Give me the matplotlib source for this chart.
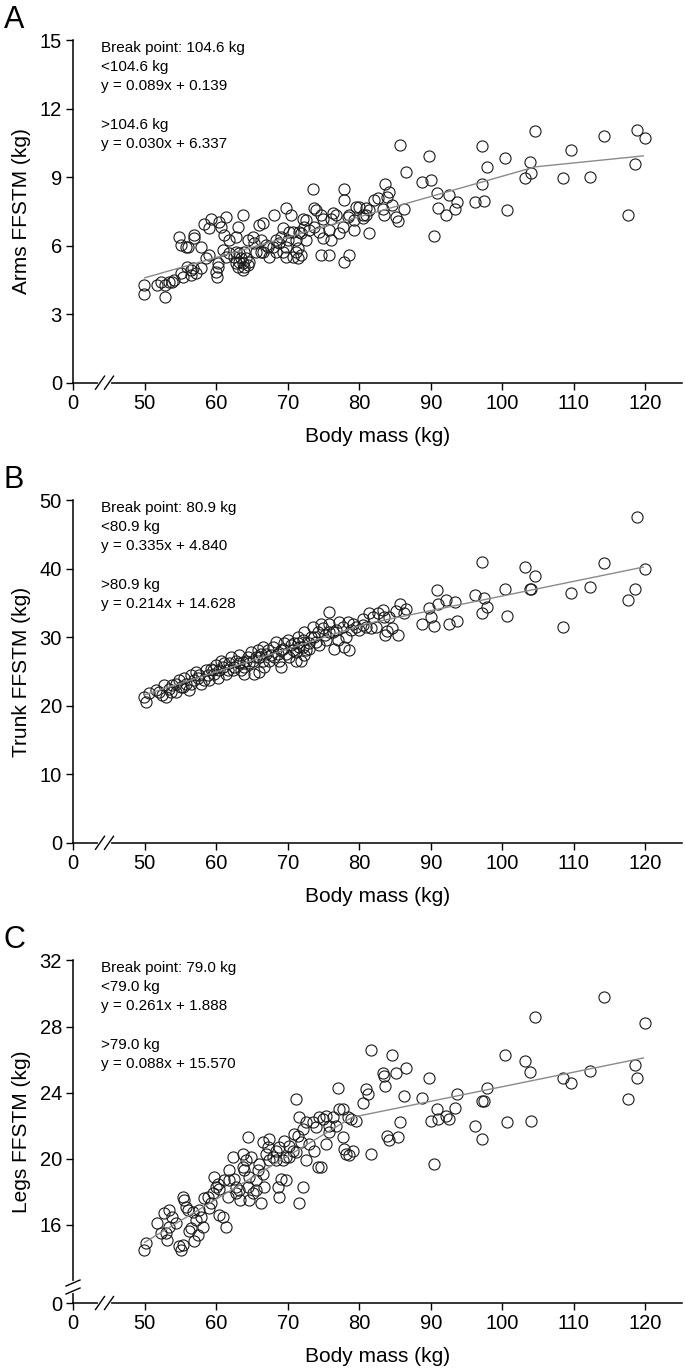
import matplotlib
matplotlib.use("Agg")
import matplotlib.pyplot as plt

plt.rcParams['font.family'] = ['Liberation Sans', 'DejaVu Sans']

# ---- data ----
arms_mass = [49.9, 49.9, 51.8, 52.9, 52.9, 53.4, 54.1, 55.1, 55.3, 56.5, 56.7, 55.9, 54.8, 55.1, 55.8,
             56.1, 56.9, 56.9, 57.9, 59.0, 59.3, 60.4, 60.7, 61.4, 59.0, 58.6, 60.2, 60.2, 60.0, 60.1,
             61.8, 61.1, 61.8, 63.0, 63.7, 62.8, 62.8, 63.2, 63.7, 63.9, 63.5, 62.8, 64.2, 64.6, 64.4,
             65.3, 66.0, 66.5, 65.6, 66.5, 67.0, 68.1, 67.9, 68.8, 69.3, 69.8, 70.0, 69.3, 69.8, 70.5,
             70.7, 71.2, 71.9, 71.4, 72.1, 72.3, 71.6, 72.6, 73.7, 73.5, 74.7, 74.9, 74.4, 74.9, 74.7,
             75.8, 76.3, 76.1, 77.2, 77.7, 77.9, 77.9, 77.9, 78.6, 78.6, 79.6, 79.3, 80.5, 80.9, 81.4,
             82.6,
             58.3, 57.2, 57.9, 56.5, 53.9, 52.3, 65.1, 66.3, 67.2, 68.4, 69.1, 70.2, 71.2, 71.4, 73.0,
             73.7, 75.8, 76.1, 76.8, 80.0, 80.5, 63.2, 63.9, 62.5, 64.4, 63.7, 63.0, 61.4, 60.9, 67.4,
             68.4, 66.3, 69.8, 70.7, 71.9, 72.6, 74.0, 78.4, 79.3, 81.4, 82.1, 80.9,
             83.3, 83.5, 83.6, 83.9, 84.2, 84.6, 85.2, 85.4, 85.7, 86.2, 86.6, 88.7, 89.8, 90.0, 90.5,
             90.9, 91.0, 92.1, 92.6, 93.4, 93.7, 96.2, 97.1, 97.2, 97.5, 97.9, 100.4, 100.7, 103.2,
             103.8, 104.0, 104.6, 108.5, 109.6, 112.2, 114.2, 117.6, 118.5, 118.8, 119.9]
arms_ffstm = [4.27, 3.88, 4.27, 3.76, 4.27, 4.42, 4.49, 4.78, 4.64, 4.71, 5.00, 5.08, 6.39, 6.02, 5.95,
              5.95, 6.46, 6.32, 5.95, 6.75, 7.15, 7.05, 6.83, 7.26, 5.59, 5.44, 5.22, 5.08, 4.86, 4.64,
              5.66, 6.46, 6.24, 6.83, 7.34, 6.39, 5.73, 5.30, 5.22, 5.08, 5.44, 5.22, 5.44, 5.30, 6.24,
              6.10, 6.90, 6.97, 5.73, 5.73, 6.02, 7.34, 5.95, 6.10, 6.75, 7.63, 6.24, 5.73, 5.51, 7.34,
              6.61, 5.73, 5.59, 5.44, 7.15, 6.83, 6.61, 6.24, 7.63, 8.46, 7.34, 7.15, 6.61, 6.32, 5.59,
              5.59, 7.41, 7.15, 6.54, 6.83, 8.46, 7.99, 5.30, 5.59, 7.34, 7.70, 6.68, 7.34, 7.63, 6.54,
              8.07,
              6.94, 4.78, 5.00, 4.93, 4.42, 4.42, 6.39, 6.24, 5.95, 6.24, 6.39, 6.61, 6.24, 5.88, 6.68,
              6.83, 6.68, 6.24, 7.34, 7.70, 7.19, 5.66, 5.73, 5.51, 5.15, 4.93, 5.08, 5.51, 5.81, 5.51,
              5.73, 5.73, 5.95, 5.51, 6.54, 7.12, 7.56, 7.26, 7.12, 7.56, 7.99, 7.34,
              7.60, 7.34, 8.68, 8.14, 8.33, 7.79, 7.24, 7.09, 10.42, 7.60, 9.22, 8.78, 9.93, 8.88, 6.41,
              8.30, 7.66, 7.34, 8.21, 7.59, 7.92, 7.92, 10.37, 8.71, 7.94, 9.44, 9.83, 7.57, 8.95,
              9.65, 9.19, 11.00, 8.97, 10.18, 9.00, 10.78, 7.34, 9.58, 11.05, 10.71]

trunk_mass = [49.9, 50.2, 51.6, 52.7, 52.5, 53.0, 53.7, 53.9, 54.4, 54.8, 55.1, 55.5, 55.8, 56.2, 56.5,
              56.9, 57.2, 57.6, 57.9, 58.3, 58.6, 59.3, 59.7, 60.0, 60.2, 60.7, 60.9, 61.4, 61.8, 62.1,
              62.3, 62.8, 63.2, 63.7, 63.9, 64.4, 64.9, 65.1, 65.3, 65.8, 66.0, 66.5, 66.7, 67.0, 67.4,
              67.9, 68.4, 68.6, 68.8, 69.3, 69.5, 70.0, 70.2, 70.7, 70.9, 71.4, 71.6, 71.9, 72.1, 72.3,
              72.6, 73.0, 73.5, 73.7, 74.2, 74.4, 74.7, 74.9, 75.4, 75.8, 75.8, 76.3, 76.5, 77.0, 77.2,
              77.7, 77.9, 78.4, 78.6, 78.9, 79.1, 80.0, 80.5, 80.9, 81.4, 81.9, 82.4, 82.6,
              50.6, 52.0, 53.4, 54.4, 55.3, 56.5, 57.4, 58.8, 59.0, 59.5, 60.4, 61.1, 61.6, 62.5, 63.2,
              63.5, 64.2, 64.6, 65.6, 66.3, 66.5, 67.2, 67.7, 68.1, 69.1, 69.8, 70.5, 71.2, 71.4, 72.1,
              72.3, 73.3, 74.0, 75.2, 75.8, 76.8, 78.2, 79.6, 80.5, 81.7, 66.0, 69.1, 71.2, 73.0, 63.9,
              83.3, 83.5, 83.6, 83.9, 84.2, 84.6, 85.2, 85.4, 85.7, 86.2, 86.6, 88.7, 89.8, 90.0, 90.5,
              90.9, 91.0, 92.1, 92.6, 93.4, 93.7, 96.2, 97.1, 97.2, 97.5, 97.9, 100.4, 100.7, 103.2,
              103.8, 104.0, 104.6, 108.5, 109.6, 112.2, 114.2, 117.6, 118.5, 118.8, 119.9]
trunk_ffstm = [21.3, 20.6, 22.3, 23.0, 21.5, 21.3, 22.0, 23.0, 23.2, 23.7, 22.8, 24.0, 23.2, 22.3, 24.5,
               23.7, 24.9, 24.5, 23.2, 23.7, 25.2, 25.4, 24.7, 25.9, 24.0, 26.6, 25.7, 24.7, 26.2, 27.1,
               25.2, 26.6, 27.4, 26.4, 25.7, 27.1, 27.9, 26.6, 24.7, 28.1, 27.1, 28.6, 25.7, 27.6, 26.6,
               28.6, 29.3, 27.6, 26.6, 28.3, 29.1, 29.6, 27.1, 28.1, 29.1, 30.1, 28.6, 26.6, 29.6, 30.8,
               28.1, 29.1, 31.5, 30.1, 30.8, 28.8, 32.0, 31.3, 29.6, 33.7, 32.0, 30.8, 28.3, 29.6, 32.2,
               31.5, 28.6, 32.2, 28.1, 31.0, 32.0, 31.0, 32.7, 31.5, 33.5, 33.0, 31.5, 33.5,
               21.8, 22.0, 22.5, 22.0, 22.8, 23.2, 24.0, 24.5, 23.7, 25.2, 25.2, 26.2, 25.2, 25.7, 26.2,
               25.2, 26.6, 26.2, 27.1, 27.6, 26.6, 28.1, 27.4, 27.1, 28.1, 27.6, 28.8, 27.9, 29.1, 28.6,
               27.4, 30.1, 29.3, 30.3, 30.8, 31.0, 30.1, 31.5, 31.8, 31.3, 24.9, 25.7, 26.6, 28.3, 24.7,
               34.0, 33.0, 30.4, 30.9, 33.0, 31.3, 33.9, 30.3, 34.8, 33.5, 34.1, 32.0, 34.2, 32.9, 31.7,
               36.9, 34.9, 35.5, 32.0, 35.1, 32.3, 36.1, 41.0, 33.6, 35.7, 34.4, 37.0, 33.1, 40.2,
               37.0, 37.0, 39.0, 31.5, 36.5, 37.4, 40.8, 35.4, 37.0, 47.6, 39.9]

legs_mass = [49.9, 50.2, 51.8, 52.7, 53.0, 53.4, 53.2, 54.8, 55.1, 55.3, 55.5, 55.3, 55.8, 56.2, 56.7,
             56.9, 57.2, 57.4, 58.1, 58.3, 58.8, 59.3, 59.7, 60.0, 60.2, 60.4, 60.9, 61.4, 61.6, 62.3,
             61.8, 62.8, 63.2, 63.7, 63.7, 63.9, 64.4, 64.4, 64.6, 65.1, 65.6, 66.0, 66.3, 66.5, 66.7,
             67.2, 67.4, 67.9, 68.4, 68.6, 68.8, 69.0, 69.5, 69.8, 70.2, 70.7, 71.2, 71.4, 71.6, 71.9,
             72.1, 72.1, 71.6, 72.6, 73.5, 73.7, 74.2, 74.7, 74.9, 75.4, 75.8, 76.3, 77.0, 77.2, 77.7,
             77.9, 78.2, 78.6, 78.9, 79.6, 80.5, 81.0, 81.2, 81.7, 81.7,
             53.9, 54.4, 56.0, 56.5, 57.6, 57.9, 59.0, 59.5, 60.4, 61.1, 61.8, 62.5, 62.8, 63.4, 64.2,
             64.6, 64.9, 65.6, 65.8, 66.5, 67.0, 67.4, 68.4, 68.8, 69.3, 69.8, 70.2, 70.9, 71.2, 72.6,
             73.0, 74.0, 74.4, 75.4, 75.8, 76.8, 77.7, 78.4, 79.1, 53.4, 52.3,
             83.3, 83.5, 83.6, 83.9, 84.2, 84.6, 85.2, 85.4, 85.7, 86.2, 86.6, 88.7, 89.8, 90.0, 90.5,
             90.9, 91.0, 92.1, 92.6, 93.4, 93.7, 96.2, 97.1, 97.2, 97.5, 97.9, 100.4, 100.7, 103.2,
             103.8, 104.0, 104.6, 108.5, 109.6, 112.2, 114.2, 117.6, 118.5, 118.8, 119.9]
legs_ffstm = [14.5, 14.9, 16.1, 16.7, 15.5, 15.9, 15.1, 14.7, 14.5, 14.8, 17.5, 17.7, 17.1, 15.6, 16.8,
              15.0, 16.3, 15.4, 15.9, 17.6, 17.7, 17.3, 18.9, 18.3, 18.5, 16.6, 16.5, 15.9, 17.7, 20.1,
              18.7, 18.3, 18.1, 20.3, 19.5, 19.3, 21.3, 18.3, 17.5, 17.9, 18.7, 19.7, 17.3, 21.0, 18.3,
              20.7, 19.9, 20.1, 20.5, 18.3, 17.7, 18.8, 21.1, 20.1, 20.8, 20.5, 23.6, 21.4, 22.5, 21.0,
              21.8, 18.3, 17.3, 19.9, 22.2, 20.5, 19.5, 19.5, 22.4, 20.9, 22.0, 22.5, 24.3, 23.0, 21.3,
              20.6, 20.3, 20.2, 22.4, 22.3, 23.4, 24.2, 23.9, 20.3, 26.6,
              16.5, 16.1, 16.9, 15.8, 16.9, 16.5, 17.0, 17.9, 18.2, 18.7, 19.3, 18.8, 17.9, 17.5, 19.9,
              18.9, 20.1, 18.1, 19.3, 19.1, 20.3, 21.2, 19.9, 20.7, 19.9, 18.7, 20.1, 21.5, 20.4, 22.2,
              20.9, 21.9, 22.5, 22.6, 21.6, 22.0, 23.0, 22.5, 20.5, 16.9, 15.5,
              25.2, 25.0, 24.4, 21.35, 21.15, 26.3, 25.2, 21.3, 22.2, 23.8, 25.5, 23.7, 24.9, 22.3, 19.7,
              23.0, 22.4, 22.6, 22.4, 23.1, 23.9, 22.0, 21.2, 23.5, 23.5, 24.3, 26.3, 22.2, 25.9,
              25.27, 22.3, 28.6, 24.9, 24.6, 25.3, 29.78, 23.6, 25.7, 24.9, 28.2]

# piecewise fits (break points and end points as printed)
arms_fit_x = [50.0, 104.6, 119.7]
arms_fit_y = [4.59, 9.45, 9.93]
trunk_fit_x = [50.0, 80.9, 119.7]
trunk_fit_y = [21.59, 31.94, 40.24]
legs_fit_x = [50.0, 79.0, 119.7]
legs_fit_y = [14.94, 22.51, 26.10]

x_ticks = [40, 50, 60, 70, 80, 90, 100, 110, 120]
x_labels = ['0', '50', '60', '70', '80', '90', '100', '110', '120']

panels = [
    dict(letter='A', ylabel='Arms FFSTM (kg)', mass=arms_mass, y=arms_ffstm,
         fx=arms_fit_x, fy=arms_fit_y, ylim=(0, 15),
         yticks=[0, 3, 6, 9, 12, 15], ylabels=['0', '3', '6', '9', '12', '15'],
         text=['Break point: 104.6 kg', '<104.6 kg', 'y = 0.089x + 0.139', '>104.6 kg',
               'y = 0.030x + 6.337'], ybreak=False),
    dict(letter='B', ylabel='Trunk FFSTM (kg)', mass=trunk_mass, y=trunk_ffstm,
         fx=trunk_fit_x, fy=trunk_fit_y, ylim=(0, 50),
         yticks=[0, 10, 20, 30, 40, 50], ylabels=['0', '10', '20', '30', '40', '50'],
         text=['Break point: 80.9 kg', '<80.9 kg', 'y = 0.335x + 4.840', '>80.9 kg',
               'y = 0.214x + 14.628'], ybreak=False),
    dict(letter='C', ylabel='Legs FFSTM (kg)', mass=legs_mass, y=legs_ffstm,
         fx=legs_fit_x, fy=legs_fit_y, ylim=(11.27, 32),
         yticks=[11.27, 16, 20, 24, 28, 32], ylabels=['0', '16', '20', '24', '28', '32'],
         text=['Break point: 79.0 kg', '<79.0 kg', 'y = 0.261x + 1.888', '>79.0 kg',
               'y = 0.088x + 15.570'], ybreak=True),
]

AX_W_PX = 609.0
AX_H_PX = 342.5
bottoms = [0.7205, 0.3844, 0.0482]
text_offsets = [8, 27, 46, 85, 104]   # px below top of axes


def break_marks(ax, horizontal=True, centers=(0.0, 0.0)):
    """draw // style axis breaks, with a gap in the spine"""
    kw = dict(transform=ax.transAxes, clip_on=False)
    c1, c2 = centers
    if horizontal:
        dx, dy = 4.5 / AX_W_PX, 6.5 / AX_H_PX
        ax.plot([c1, c2], [0, 0], color='white', lw=3, zorder=5, **kw)
        for c in centers:
            ax.plot([c - dx, c + dx], [-dy, dy], color='black', lw=1.0, zorder=6, **kw)
    else:
        dx, dy = 7.0 / AX_W_PX, 3.0 / AX_H_PX
        ax.plot([0, 0], [c1, c2], color='white', lw=3, zorder=5, **kw)
        for c in centers:
            ax.plot([-dx, dx], [c - dy, c + dy], color='black', lw=1.0, zorder=6, **kw)


fig = plt.figure(figsize=(6.85, 13.69), dpi=100)

for p, bottom in zip(panels, bottoms):
    ax = fig.add_axes([0.1066, bottom, 0.889, 0.2502])
    ax.plot(p['mass'], p['y'], linestyle='none', marker='o', markersize=8,
            markerfacecolor='none', markeredgecolor='#1a1a1a', markeredgewidth=0.8, zorder=3)
    ax.plot(p['fx'], p['fy'], color='#8a8a8a', linewidth=1.0, zorder=4)

    ax.set_xlim(40, 125.1)
    ax.set_ylim(*p['ylim'])
    ax.set_xticks(x_ticks)
    ax.set_xticklabels(x_labels)
    ax.set_yticks(p['yticks'])
    ax.set_yticklabels(p['ylabels'])
    ax.tick_params(direction='out', length=5, width=1, labelsize=14.5, pad=3)
    for side in ['top', 'right']:
        ax.spines[side].set_visible(False)
    for side in ['left', 'bottom']:
        ax.spines[side].set_linewidth(1.1)

    ax.set_xlabel('Body mass (kg)', fontsize=15, labelpad=10)
    ax.set_ylabel(p['ylabel'], fontsize=15, labelpad=6)

    for line, off in zip(p['text'], text_offsets):
        ax.text(28 / AX_W_PX, 1 - off / AX_H_PX, line, transform=ax.transAxes,
                fontsize=11, va='center', ha='left')

    ax.text(-59 / AX_W_PX, 1 + 20 / AX_H_PX, p['letter'], transform=ax.transAxes,
            fontsize=22, va='center', ha='center')

    break_marks(ax, True, (27 / AX_W_PX, 36 / AX_W_PX))
    if p['ybreak']:
        break_marks(ax, False, (12 / AX_H_PX, 20 / AX_H_PX))

fig.savefig('out.png', dpi=100)
